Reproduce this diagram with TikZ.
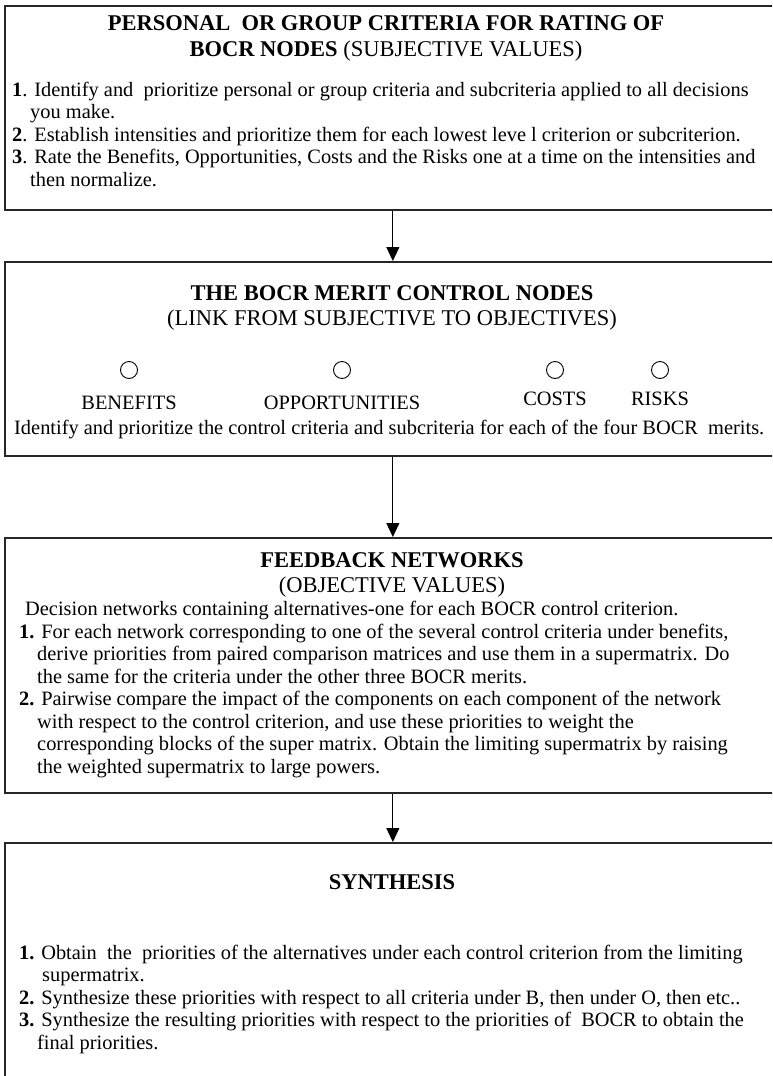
\documentclass[tikz,border=0pt]{standalone}
\usepackage{fontspec}
\setmainfont{Liberation Serif}
\usetikzlibrary{arrows.meta}
\tikzset{
  panel/.style={draw=black!85, line width=1.7pt, anchor=north west, inner sep=0pt},
  flow/.style={line width=1.1pt, -{Triangle[length=14pt,width=13pt]}},
  % multi-line texts are placed by the baseline of their last line
  body/.style={inner sep=0pt, align=left, anchor=base west,
    font=\fontsize{20.4}{22.5}\selectfont},
  head/.style={inner sep=0pt, align=center, anchor=base,
    font=\fontsize{22.5}{25}\selectfont},
  merit/.style={circle, draw, line width=0.9pt, minimum size=17pt, inner sep=0pt},
  meritlabel/.style={inner sep=0pt, anchor=base, font=\fontsize{20.4}{22}\selectfont},
}
\newcommand{\ind}[1]{\hspace*{#1pt}}
\begin{document}
\begin{tikzpicture}[x=1pt,y=-1pt]
\useasboundingbox (0,0) rectangle (772,1076);
\clip (0,0) rectangle (772,1076);

% four stage panels
\node[panel, minimum width=776pt, minimum height=204pt] (p1) at (4,5) {};
\node[panel, minimum width=776pt, minimum height=194pt] (p2) at (4,261) {};
\node[panel, minimum width=776pt, minimum height=255pt] (p3) at (4,537) {};
\node[panel, minimum width=776pt, minimum height=260pt] (p4) at (4,842) {};

% flow between stages
\draw[flow] (p1.south) -- (p2.north);
\draw[flow] (p2.south) -- (p3.north);
\draw[flow] (p3.south) -- (p4.north);

% stage 1
\node[head] (h1) at (386,56) {\textbf{PERSONAL~ OR GROUP CRITERIA FOR RATING OF}\\
  \textbf{BOCR NODES} (SUBJECTIVE VALUES)};
\node[body] (t1) at (12,186) {\textbf{1}. Identify and~ prioritize personal or group criteria and subcriteria applied to all decisions\\
  \ind{18}you make.\\
  \textbf{2}. Establish intensities and prioritize them for each lowest leve l criterion or subcriterion.\\
  \textbf{3}. Rate the Benefits, Opportunities, Costs and the Risks one at a time on the intensities and\\
  \ind{18}then normalize.};

% stage 2
\node[head] (h2) at (392,325) {\textbf{THE BOCR MERIT CONTROL NODES}\\
  (LINK FROM SUBJECTIVE TO OBJECTIVES)};
\node[merit] (mb) at (129,370) {};
\node[merit] (mo) at (342,370) {};
\node[merit] (mc) at (555,370) {};
\node[merit] (mr) at (660,370) {};
\node[meritlabel] (lb) at (129,409) {BENEFITS};
\node[meritlabel] (lo) at (342,409) {OPPORTUNITIES};
\node[meritlabel] (lc) at (555,405) {COSTS};
\node[meritlabel] (lr) at (660,405) {RISKS};
\node[body] (t2) at (14,434) {Identify and prioritize the control criteria and subcriteria for each of the four BOCR~ merits.};

% stage 3
\node[head] (h3) at (392,592) {\textbf{FEEDBACK NETWORKS}\\(OBJECTIVE VALUES)};
\node[body] (t3) at (19,773) {\ind{6}Decision networks containing alternatives-one for each BOCR control criterion.\\
  \textbf{1.} For each network corresponding to one of the several control criteria under benefits,\\
  \ind{18}derive priorities from paired comparison matrices and use them in a supermatrix. Do\\
  \ind{18}the same for the criteria under the other three BOCR merits.\\
  \textbf{2.} Pairwise compare the impact of the components on each component of the network\\
  \ind{18}with respect to the control criterion, and use these priorities to weight the\\
  \ind{18}corresponding blocks of the super matrix. Obtain the limiting supermatrix by raising\\
  \ind{18}the weighted supermatrix to large powers.};

% stage 4
\node[head] (h4) at (392,889) {\textbf{SYNTHESIS}};
\node[body] (t4) at (19,1049) {\textbf{1.} Obtain~ the~ priorities of the alternatives under each control criterion from the limiting\\
  \ind{23}supermatrix.\\
  \textbf{2.} Synthesize these priorities with respect to all criteria under B, then under O, then etc..\\
  \textbf{3.} Synthesize the resulting priorities with respect to the priorities of~ BOCR to obtain the\\
  \ind{18}final priorities.};
\end{tikzpicture}
\end{document}
